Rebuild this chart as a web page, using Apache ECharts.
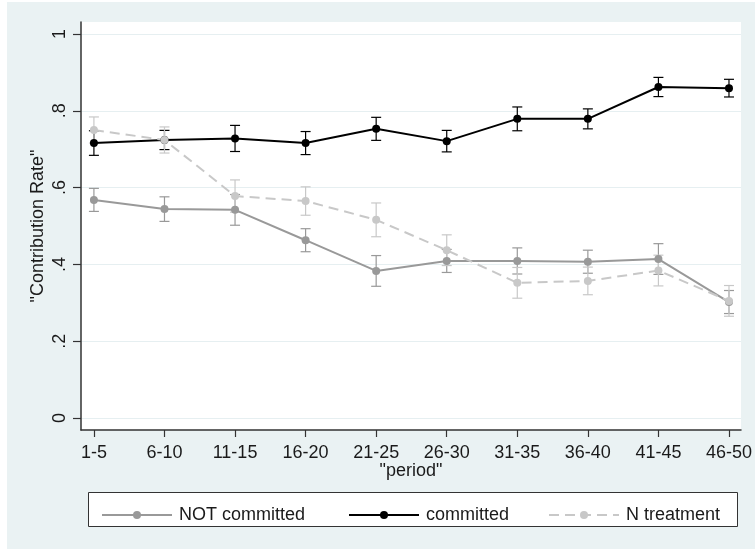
<!DOCTYPE html>
<html>
<head>
<meta charset="utf-8">
<script src="https://cdn.jsdelivr.net/npm/echarts@6/dist/echarts.min.js"></script>
<style>
  html, body { margin: 0; padding: 0; background: #ffffff; }
  #chart { width: 755px; height: 549px; }
</style>
</head>
<body>
<div id="chart"></div>
<script>
// periodos (categorías del eje x)
var periods = ['1-5', '6-10', '11-15', '16-20', '21-25', '26-30', '31-35', '36-40', '41-45', '46-50'];
var yTicks = [0, 0.2, 0.4, 0.6, 0.8, 1];

// medias por grupo
var notCommitted = [0.568, 0.544, 0.542, 0.463, 0.383, 0.409, 0.409, 0.407, 0.414, 0.302];
var committed = [0.716, 0.724, 0.728, 0.716, 0.753, 0.721, 0.779, 0.779, 0.862, 0.859];
var nTreatment = [0.750, 0.724, 0.578, 0.565, 0.516, 0.437, 0.352, 0.357, 0.384, 0.305];

// semiamplitud de las barras de error
var notCommittedErr = [0.030, 0.032, 0.040, 0.030, 0.040, 0.030, 0.034, 0.030, 0.040, 0.030];
var committedErr = [0.032, 0.025, 0.034, 0.030, 0.030, 0.028, 0.031, 0.026, 0.025, 0.023];
var nTreatmentErr = [0.034, 0.034, 0.042, 0.037, 0.044, 0.040, 0.040, 0.036, 0.040, 0.040];

var colNot = '#999999';
var colCom = '#000000';
var colN = '#c8c8c8';
var font = 'Liberation Sans, Arial, sans-serif';

function points(vals) {
    return vals.map(function (v, i) { return [i, v]; });
}
function errData(vals, errs) {
    return vals.map(function (v, i) { return [i, v - errs[i], v + errs[i]]; });
}

// barras de error (serie custom, fuera de la leyenda)
function errorSeries(id, vals, errs, color) {
    return {
        id: id,
        type: 'custom',
        data: errData(vals, errs),
        z: 2,
        renderItem: function (params, api) {
            var lo = api.coord([api.value(0), api.value(1)]);
            var hi = api.coord([api.value(0), api.value(2)]);
            var w = 5;
            var style = { stroke: color, lineWidth: 1.2 };
            return {
                type: 'group',
                children: [
                    { type: 'line', shape: { x1: lo[0], y1: lo[1], x2: hi[0], y2: hi[1] }, style: style },
                    { type: 'line', shape: { x1: lo[0] - w, y1: lo[1], x2: lo[0] + w, y2: lo[1] }, style: style },
                    { type: 'line', shape: { x1: hi[0] - w, y1: hi[1], x2: hi[0] + w, y2: hi[1] }, style: style }
                ]
            };
        }
    };
}

function lineSeries(name, vals, color, dashed) {
    return {
        name: name,
        type: 'line',
        data: points(vals),
        symbol: 'circle',
        symbolSize: 8,
        z: 3,
        itemStyle: { color: color },
        lineStyle: { color: color, width: 2, type: dashed ? [10, 6] : 'solid' }
    };
}

function legendAt(name, left) {
    return {
        data: [name],
        left: left,
        top: 501,
        itemWidth: 70,
        itemHeight: 10,
        textStyle: { fontSize: 18, color: '#1a1a1a', fontFamily: font, padding: [0, 0, 0, 2] },
        selectedMode: false
    };
}

var chart = echarts.init(document.getElementById('chart'));

var option = {
    backgroundColor: '#eaf2f3',
    animation: false,
    textStyle: { fontFamily: font },
    graphic: [
        { type: 'rect', left: 0, top: 0, shape: { width: 7, height: 549 }, style: { fill: '#ffffff' }, silent: true },
        { type: 'rect', left: 0, top: 0, shape: { width: 755, height: 2 }, style: { fill: '#ffffff' }, silent: true },
        { type: 'rect', left: 88, top: 492, z: -1, shape: { width: 649, height: 34 }, style: { fill: '#ffffff', stroke: '#333333', lineWidth: 1 }, silent: true }
    ],
    grid: {
        left: 81, top: 22, right: 10, bottom: 119,
        show: true, backgroundColor: '#ffffff', borderWidth: 0
    },
    legend: [
        legendAt('NOT committed', 96),
        legendAt('committed', 343),
        legendAt('N treatment', 543)
    ],
    xAxis: {
        type: 'value',
        min: -0.183,
        max: 9.17,
        name: '"period"',
        nameLocation: 'middle',
        nameGap: 32,
        nameMoveOverlap: false,
        nameTextStyle: { fontSize: 18, color: '#1a1a1a' },
        axisLine: { show: true, onZero: false, lineStyle: { color: '#333333', width: 1.5 } },
        axisTick: { show: true, length: 7, customValues: [0, 1, 2, 3, 4, 5, 6, 7, 8, 9], lineStyle: { color: '#333333', width: 1.2 } },
        axisLabel: {
            customValues: [0, 1, 2, 3, 4, 5, 6, 7, 8, 9],
            fontSize: 18,
            color: '#1a1a1a',
            margin: 14,
            formatter: function (v) { return periods[Math.round(v)]; }
        },
        splitLine: { show: false }
    },
    yAxis: {
        type: 'value',
        min: -0.03125,
        max: 1.03125,
        name: '"Contribution Rate"',
        nameLocation: 'middle',
        nameRotate: 90,
        nameGap: 34,
        nameMoveOverlap: false,
        nameTextStyle: { fontSize: 18, color: '#1a1a1a' },
        axisLine: { show: true, onZero: false, lineStyle: { color: '#333333', width: 1.5 } },
        axisTick: { show: true, length: 8, customValues: yTicks, lineStyle: { color: '#333333', width: 1.2 } },
        axisLabel: {
            customValues: yTicks,
            fontSize: 18,
            color: '#1a1a1a',
            rotate: 90,
            margin: 12,
            formatter: function (v) {
                if (v === 0) return '0';
                if (v === 1) return '1';
                return String(Math.round(v * 10) / 10).replace('0.', '.');
            }
        },
        splitLine: { show: true, lineStyle: { color: '#e6eff1', width: 1.2 } }
    },
    series: [
        errorSeries('errNot', notCommitted, notCommittedErr, colNot),
        errorSeries('errCom', committed, committedErr, colCom),
        errorSeries('errN', nTreatment, nTreatmentErr, colN),
        lineSeries('NOT committed', notCommitted, colNot, false),
        lineSeries('committed', committed, colCom, false),
        lineSeries('N treatment', nTreatment, colN, true)
    ]
};

chart.setOption(option);
</script>
</body>
</html>
